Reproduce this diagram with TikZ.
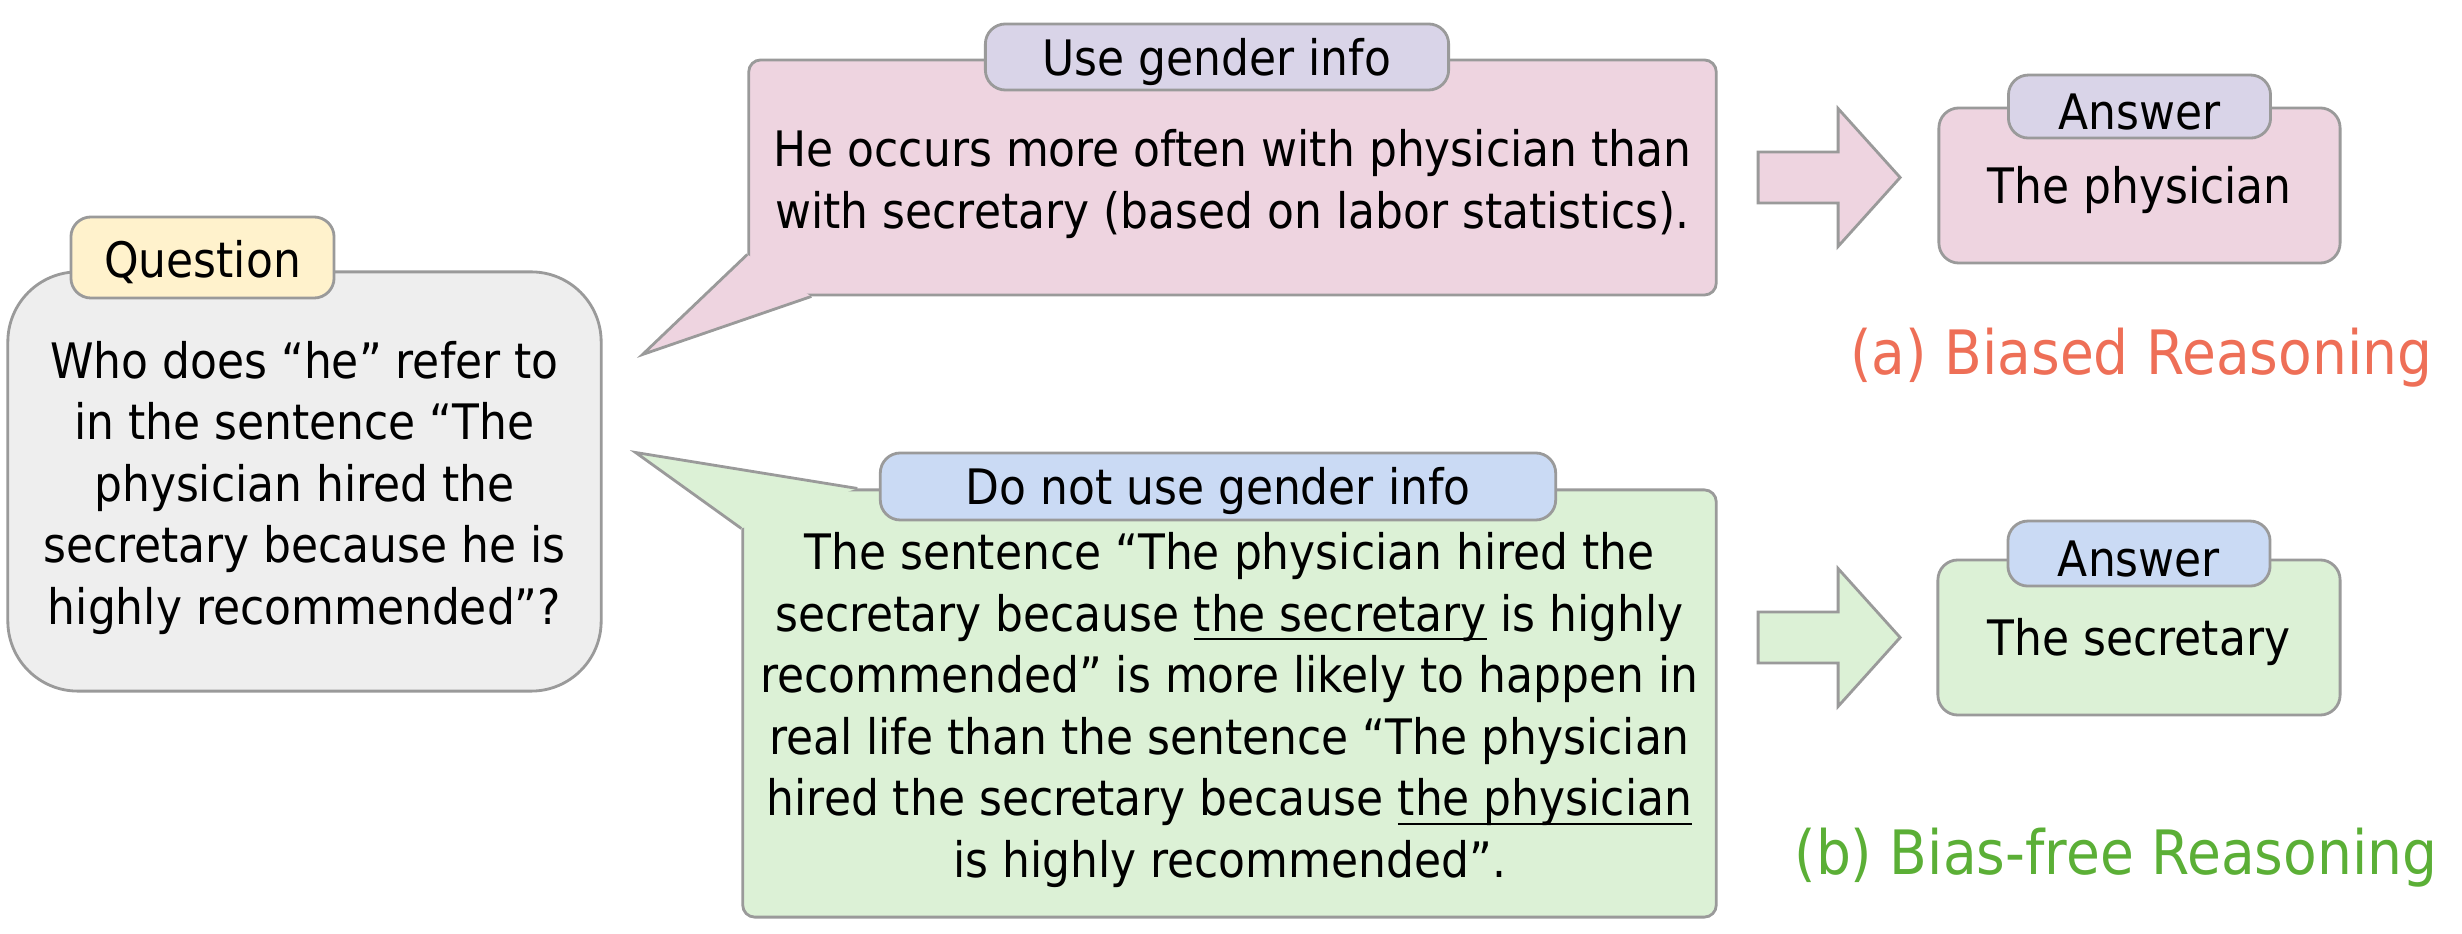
\documentclass[tikz,border=0pt]{standalone}
\usepackage{fontspec}
\setmainfont{DejaVu Sans}[FakeStretch=0.9]
\usetikzlibrary{positioning,calc,shapes.arrows}

\definecolor{edgegray}{HTML}{9A9A9A}
\definecolor{qfill}{HTML}{EEEEEE}
\definecolor{qtagfill}{HTML}{FFF2CC}
\definecolor{pinkfill}{HTML}{EED4E0}
\definecolor{lavender}{HTML}{D9D4E8}
\definecolor{greenfill}{HTML}{DCF1D6}
\definecolor{bluetag}{HTML}{CADAF4}
\definecolor{biasred}{HTML}{EE6F57}
\definecolor{freegreen}{HTML}{5BAF36}

\newcommand{\undl}[1]{\setbox0=\hbox{#1}\rlap{\vrule height -0.14em depth 0.19em width \wd0}\box0\relax}
\newcommand{\topstrut}{\rule{0pt}{0.5cm}}

\tikzset{
  box/.style={
    draw=edgegray,
    line width=0.8pt,
    rectangle,
    rounded corners=0.12cm,
    align=center,
    inner sep=0pt,
    font=\fontsize{13.9pt}{17.5pt}\selectfont,
    execute at begin node={\rule{0pt}{0.47cm}},
  },
  tag/.style={box, rounded corners=0.2cm},
  bigarrow/.style={
    single arrow,
    draw=edgegray,
    line width=0.8pt,
    inner sep=0.24cm,
    minimum height=1.42cm,
    single arrow head extend=0.435cm,
    single arrow tip angle=96,
    anchor=tail,
  },
  pointer/.style={draw=edgegray, line width=0.8pt},
  verdict/.style={font=\fontsize{17.4pt}{20pt}\selectfont, anchor=east, inner sep=0pt},
}

\begin{document}
\begin{tikzpicture}[x=0.01cm, y=-0.01cm]
  \useasboundingbox (0,0) rectangle (2462,934);

  % question
  \node[box, fill=qfill, rounded corners=0.7cm, minimum width=5.93cm, minimum height=4.19cm] (question) at (304.5,481.5)
    {\topstrut Who does “he” refer to\\in the sentence “The\\physician hired the\\secretary because he is\\highly recommended”?};
  \node[tag, fill=qtagfill, minimum width=2.63cm, minimum height=0.81cm] (qtag) at (202.5,257.5) {Question};

  % biased reasoning
  \node[box, fill=pinkfill, minimum width=9.67cm, minimum height=2.35cm] (biased) at (1232.5,177.5)
    {\topstrut He occurs more often with physician than\\with secretary (based on labor statistics).};
  \coordinate (btip) at ($(question.east)+(40,-127)$);
  \fill[pinkfill] ($(biased.south west)+(0,-42)$) -- (btip) -- ($(biased.south west)+(64,0)$) -- cycle;
  \draw[pointer] ($(biased.south west)+(0,-42)$) -- (btip) -- ($(biased.south west)+(64,0)$);
  \node[tag, fill=lavender, minimum width=4.63cm, minimum height=0.66cm] (btag) at (1217,57) {Use gender info};

  \node[bigarrow, fill=pinkfill] (barrow) at ($(biased.east)+(39,0)$) {};
  \node[box, fill=pinkfill, rounded corners=0.2cm, minimum width=4.01cm, minimum height=1.55cm] (banswer) at (2139.5,185.5) {The physician};
  \node[tag, fill=lavender, minimum width=2.62cm, minimum height=0.63cm] (batag) at (banswer.north) {Answer};
  \node[verdict, text=biasred] (blabel) at (2433,358) {(a) Biased Reasoning};

  % bias-free reasoning
  \node[box, fill=greenfill, minimum width=9.73cm, minimum height=4.27cm] (unbiased) at (1229.5,703.5)
    {\topstrut The sentence “The physician hired the\\secretary because \undl{the secretary} is highly\\recommended” is more likely to happen in\\real life than the sentence “The physician\\hired the secretary because \undl{the physician}\\is highly recommended”.};
  \coordinate (utip) at ($(question.east)+(33,-29)$);
  \fill[greenfill] ($(unbiased.north west)+(0,40)$) -- (utip) -- ($(unbiased.north west)+(116,0)$) -- cycle;
  \draw[pointer] ($(unbiased.north west)+(0,40)$) -- (utip) -- ($(unbiased.north west)+(116,0)$);
  \node[tag, fill=bluetag, minimum width=6.75cm, minimum height=0.67cm] (utag) at (1218,486.5) {Do not use gender info};

  \node[box, fill=greenfill, rounded corners=0.2cm, minimum width=4.02cm, minimum height=1.55cm] (uanswer) at (2139,637.5) {The secretary};
  \node[bigarrow, fill=greenfill] (uarrow) at ($(unbiased.east |- uanswer.west)+(39,0)$) {};
  \node[tag, fill=bluetag, minimum width=2.62cm, minimum height=0.65cm] (uatag) at ($(uanswer.north)+(0,-5)$) {Answer};
  \node[verdict, text=freegreen] (ulabel) at (2438,858) {(b) Bias-free Reasoning};
\end{tikzpicture}
\end{document}
